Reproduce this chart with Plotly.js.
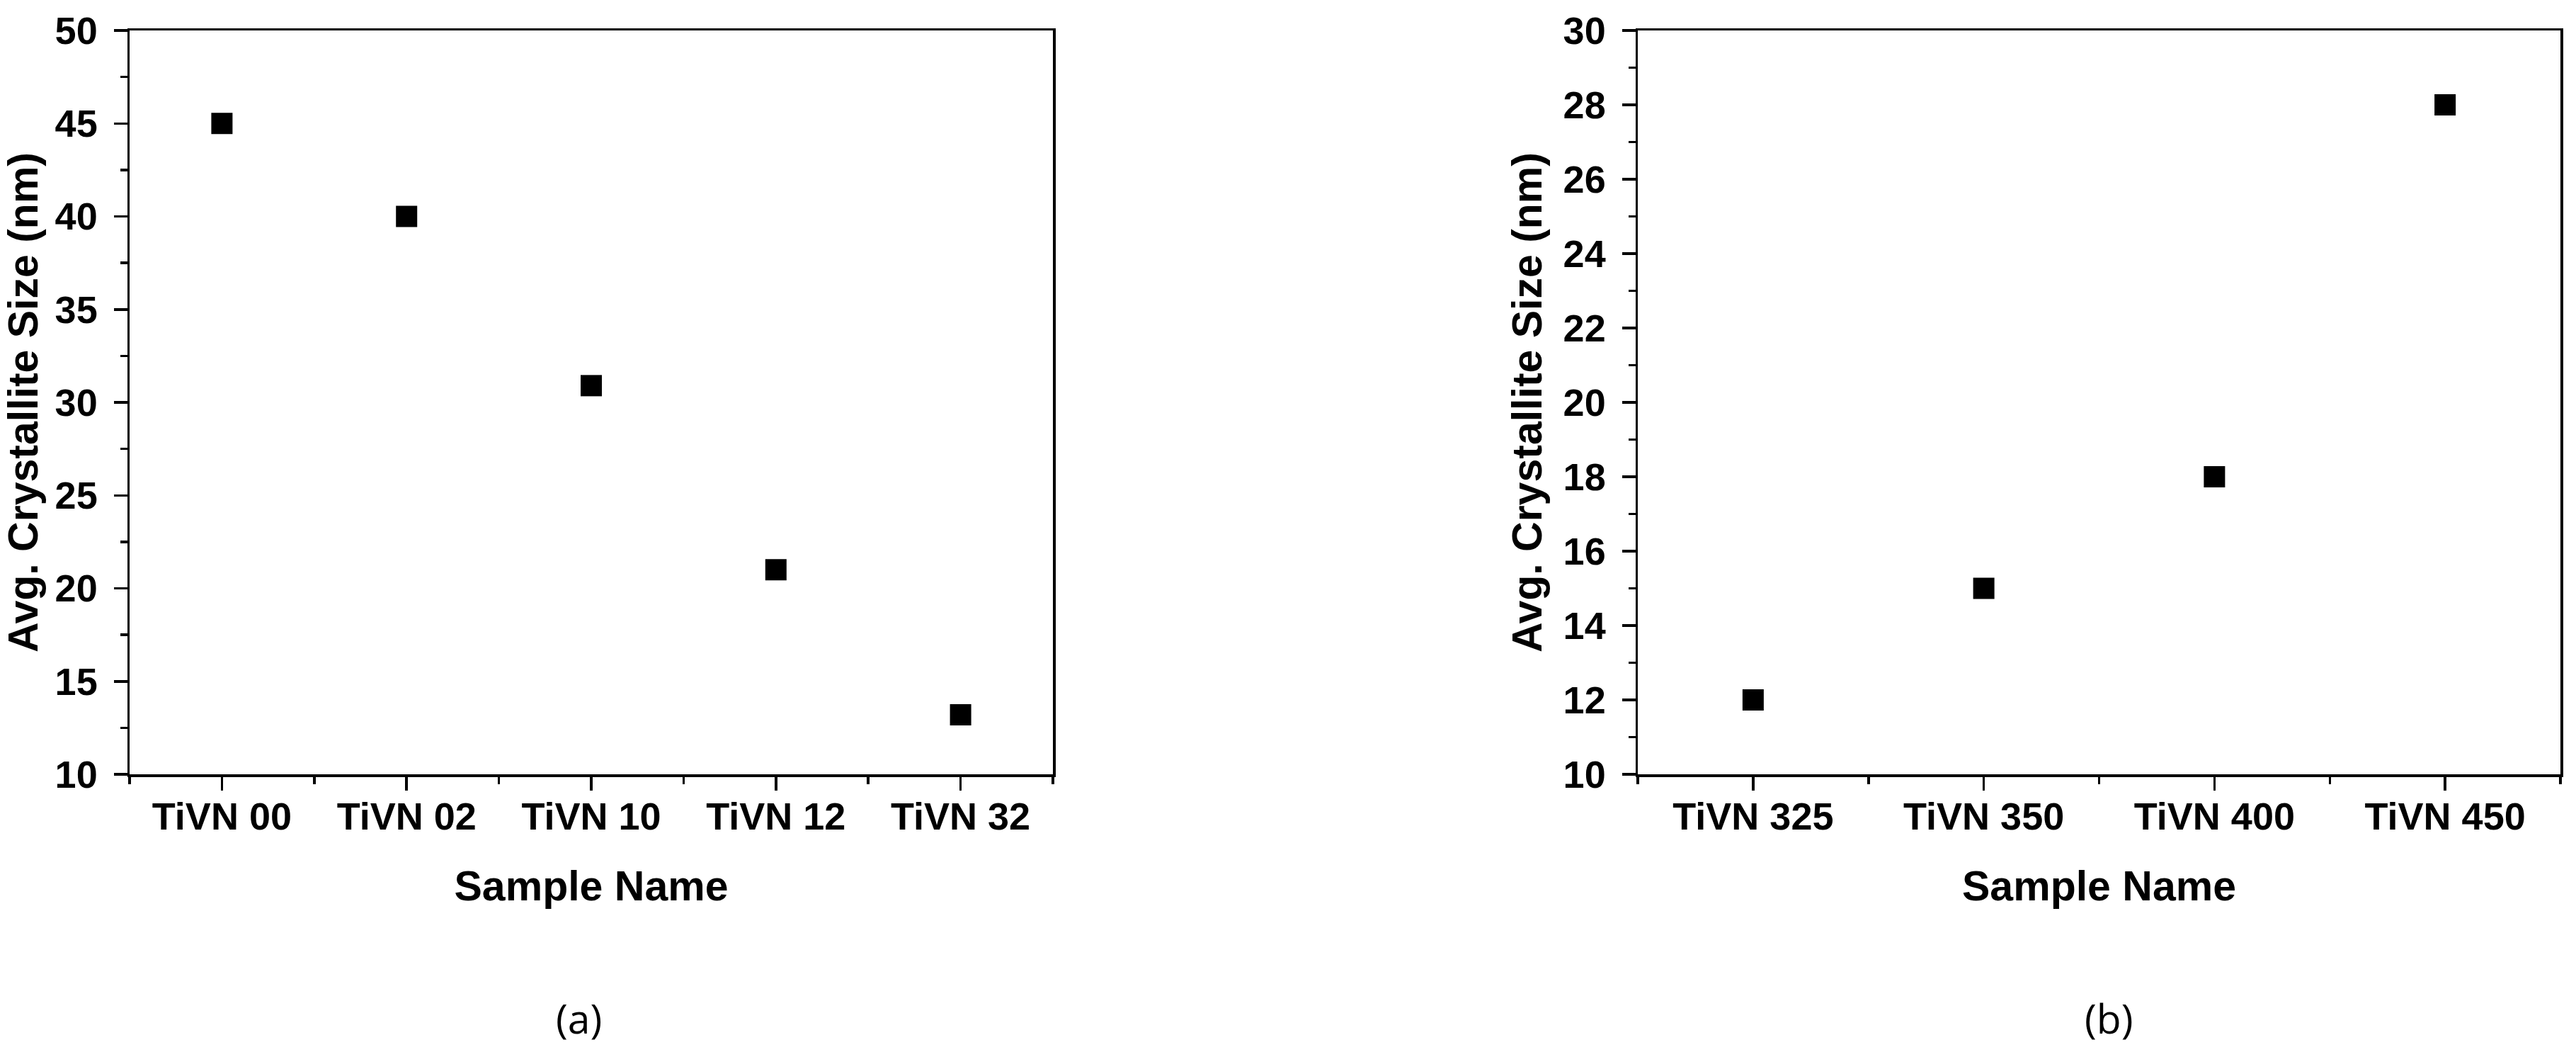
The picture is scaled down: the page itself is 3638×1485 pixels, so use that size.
<!DOCTYPE html>
<html>
<head>
<meta charset="utf-8">
<script src="https://cdn.plot.ly/plotly-3.0.1.min.js"></script>
<style>
  html, body { margin: 0; padding: 0; background: #ffffff; }
  #chart { width: 3638px; height: 1485px; }
</style>
</head>
<body>
<div id="chart"></div>
<script>
// ---- Data ----
const samplesA = ["TiVN 00", "TiVN 02", "TiVN 10", "TiVN 12", "TiVN 32"];
const sizesA = [45, 40, 30.9, 21, 13.2];

const samplesB = ["TiVN 325", "TiVN 350", "TiVN 400", "TiVN 450"];
const sizesB = [12, 15, 18, 28];

const xTitle = "Sample Name";
const yTitle = "Avg. Crystallite Size (nm)";
const panelLabels = ["(a)", "(b)"];

// ---- Styling ----
const W = 3638, H = 1485;
const tickFont = { family: "Liberation Sans, Arial, sans-serif", size: 54, color: "#000", weight: "bold" };
const titleFont = { family: "Liberation Sans, Arial, sans-serif", size: 59, color: "#000", weight: "bold" };

const idxA = samplesA.map((_, i) => i);
const idxB = samplesB.map((_, i) => i);

const markerStyle = { symbol: "square", size: 30, color: "#000000", line: { width: 0 } };

const traces = [
  { x: idxA, y: sizesA, type: "scatter", mode: "markers", marker: markerStyle, xaxis: "x", yaxis: "y", showlegend: false, hoverinfo: "skip" },
  { x: idxB, y: sizesB, type: "scatter", mode: "markers", marker: markerStyle, xaxis: "x2", yaxis: "y2", showlegend: false, hoverinfo: "skip" }
];

function xAxis(domain, idx, labels, anchor) {
  return {
    domain: domain,
    anchor: anchor,
    range: [-0.5, idx.length - 0.5],
    tickmode: "array",
    tickvals: idx,
    ticktext: labels,
    ticks: "outside",
    ticklen: 19,
    tickwidth: 3.5,
    tickcolor: "#000",
    showline: true,
    linewidth: 3.5,
    linecolor: "#000",
    mirror: true,
    showgrid: false,
    zeroline: false,
    tickfont: tickFont,
    ticklabelstandoff: -9,
    minor: { tickmode: "linear", tick0: -0.5, dtick: 1, ticks: "outside", ticklen: 10, tickwidth: 3.5, tickcolor: "#000", showgrid: false },
    title: { text: xTitle, font: titleFont, standoff: 49 },
    automargin: false,
    fixedrange: true
  };
}

function yAxis(domain, range, dtick, anchor) {
  return {
    domain: domain,
    anchor: anchor,
    range: range,
    tickmode: "linear",
    tick0: range[0],
    dtick: dtick,
    ticks: "outside",
    ticklen: 19,
    tickwidth: 3.5,
    tickcolor: "#000",
    showline: true,
    linewidth: 3.5,
    linecolor: "#000",
    mirror: true,
    showgrid: false,
    zeroline: false,
    tickfont: tickFont,
    ticklabelstandoff: 12,
    minor: { tickmode: "linear", tick0: range[0], dtick: dtick / 2, ticks: "outside", ticklen: 10, tickwidth: 3.5, tickcolor: "#000", showgrid: false },
    title: { text: yTitle, font: titleFont, standoff: 12 },
    automargin: false,
    fixedrange: true
  };
}

const yDom = [1 - 1093 / H, 1 - 43 / H];

const layout = {
  width: W,
  height: H,
  margin: { l: 0, r: 0, t: 0, b: 0, pad: 0 },
  paper_bgcolor: "#ffffff",
  plot_bgcolor: "#ffffff",
  showlegend: false,
  xaxis: xAxis([183 / W, 1487 / W], idxA, samplesA, "y"),
  yaxis: yAxis(yDom, [10, 50], 5, "x"),
  xaxis2: xAxis([2313 / W, 3616 / W], idxB, samplesB, "y2"),
  yaxis2: yAxis(yDom, [10, 30], 2, "x2"),
  annotations: [
    { text: panelLabels[0], xref: "paper", yref: "paper", x: 817 / W, y: 1 - 1437 / H, xanchor: "center", yanchor: "middle", showarrow: false,
      font: { family: "Open Sans, Noto Sans, sans-serif", size: 57, color: "#000" } },
    { text: panelLabels[1], xref: "paper", yref: "paper", x: 2978 / W, y: 1 - 1437 / H, xanchor: "center", yanchor: "middle", showarrow: false,
      font: { family: "Open Sans, Noto Sans, sans-serif", size: 57, color: "#000" } }
  ]
};

Plotly.newPlot("chart", traces, layout, { staticPlot: true, displayModeBar: false });
</script>
</body>
</html>
